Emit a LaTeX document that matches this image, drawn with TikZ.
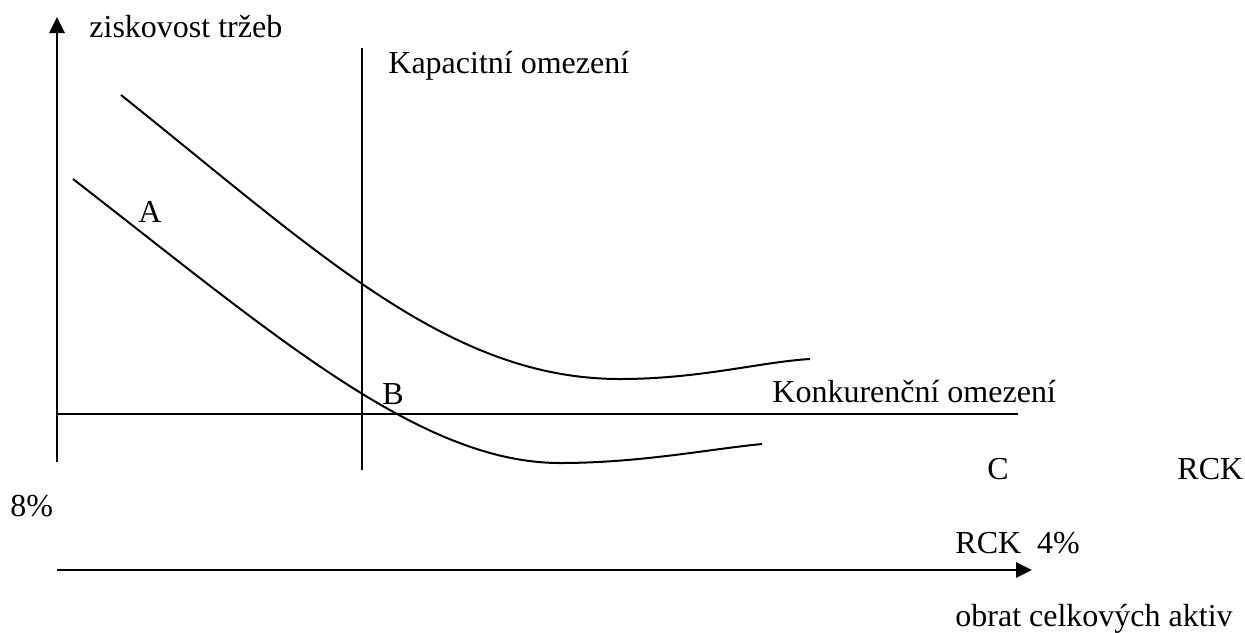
\documentclass[tikz,border=0pt]{standalone}
\usepackage{fontspec}
\setmainfont{Liberation Serif}
\usetikzlibrary{positioning}
\usetikzlibrary{arrows.meta}

\tikzset{
	popis/.style={anchor=base west, inner sep=0pt, font=\fontsize{16}{19}\selectfont},
	osa/.style={line width=1.4pt, -{Triangle[length=8pt,width=7.5pt]}},
	mez/.style={line width=1pt},
	krivka/.style={line width=1pt}
}

\begin{document}
\begin{tikzpicture}[x=0.5pt, y=-0.5pt]
				\useasboundingbox (0,0) rectangle (1245,632);
				% osy
				\node[shape=coordinate] (y0) at (57, 462) {};
				\node[shape=coordinate] (y1) at (57, 17) {};
				\node[shape=coordinate] (x0) at (57, 570) {};
				\node[shape=coordinate] (x1) at (1032, 570) {};
				\draw[osa] (y0) -- (y1);
				\draw[osa] (x0) -- (x1);
				% omezeni
				\node[shape=coordinate] (k0) at (362, 48) {};
				\node[shape=coordinate] (k1) at (362, 470) {};
				\node[shape=coordinate] (h0) at (57, 414) {};
				\node[shape=coordinate] (h1) at (1018, 414) {};
				\draw[mez] (k0) -- (k1);
				\draw[mez] (h0) -- (h1);
				% krivky
				\draw[krivka] (121,95) .. controls (321,255) and (450,379) .. (620,379)
					.. controls (700,379) and (760,362) .. (810,359);
				\draw[krivka] (73,179) .. controls (273,334) and (420,463) .. (560,463)
					.. controls (640,463) and (710,449) .. (762,444);
				% popisky
				\node[popis] (zisk) at (89, 37) {ziskovost tržeb};
				\node[popis] (kap) at (388, 73) {Kapacitní omezení};
				\node[popis] (bodA) at (138, 222) {A};
				\node[popis] (bodB) at (382, 404) {B};
				\node[popis] (konk) at (772, 402) {Konkurenční omezení};
				\node[popis] (bodC) at (987, 479) {C};
				\node[popis] (rck8) at (1177, 479) {RCK};
				\node[popis] (pct8) at (10, 516) {8\%};
				\node[popis] (rck4) at (955, 553) {RCK\ \ 4\%};
				\node[popis] (obrat) at (955, 626) {obrat celkových aktiv};
			\end{tikzpicture}
\end{document}
